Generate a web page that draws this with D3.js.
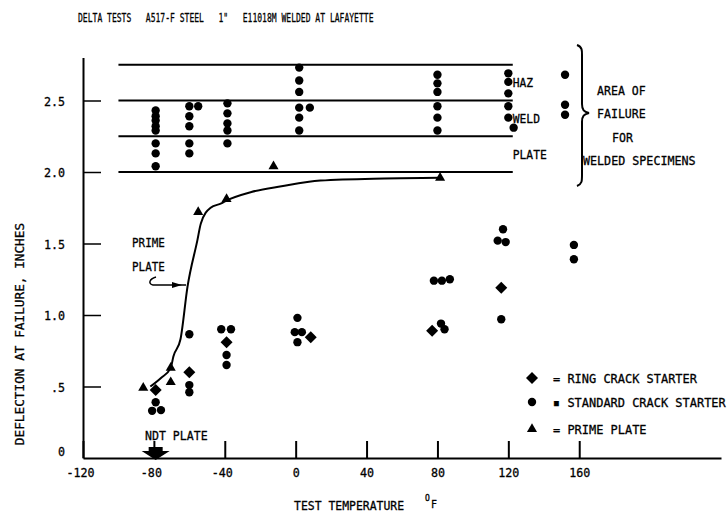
<!DOCTYPE html>
<html>
<head>
<meta charset="utf-8">
<script src="https://cdn.jsdelivr.net/npm/d3@7"></script>
<style>
  body { margin: 0; background: #fff; }
  svg { font-family: 'DejaVu Sans Mono', monospace; display: block; }
  text { fill: #000; stroke: #000; stroke-width: 0.3px; white-space: pre; }
</style>
</head>
<body>
<div class="visHolder"></div>
<script>
// ========================================
// Data
// ========================================
const xTicks = [-120, -80, -40, 0, 40, 80, 120, 160];
const xTickLabels = ['-120', '-80', '-40', '0', '40', '80', '120', '160'];
const yTicks = [0.5, 1.0, 1.5, 2.0, 2.5];
const yTickLabels = ['.5', '1.0', '1.5', '2.0', '2.5'];

const bandLevels = [2.75, 2.5, 2.25, 2.0];      // HAZ / WELD / PLATE zones
const bandNames = ['HAZ', 'WELD', 'PLATE'];

// ring crack starter (diamonds)
const ringTemp = [-79, -60, -39, 8.5, 77, 116];
const ringDefl = [0.475, 0.60, 0.81, 0.845, 0.89, 1.19];

// standard crack starter (circles)
const stdTemp = [
  -79, -79, -79, -79, -79, -79, -79, -79,
  -60, -60, -60, -60, -60, -55,
  -38.5, -38.5, -38.5, -38.5, -38.5,
  2, 2, 2, 2, 2, 2, 8,
  80, 80, 80, 80, 80, 80,
  120, 120, 120, 120, 120, 123,
  152, 152, 152,
  -79, -81, -76, -60, -60, -60, -42, -36.5, -39, -39,
  1, -0.5, 3.5, 1, 78, 82.5, 87, 82, 84,
  117, 114, 118.5, 116, 157, 157
];
const stdDefl = [
  2.43, 2.39, 2.36, 2.32, 2.29, 2.20, 2.13, 2.04,
  2.46, 2.39, 2.32, 2.20, 2.13, 2.46,
  2.48, 2.41, 2.34, 2.29, 2.20,
  2.73, 2.64, 2.56, 2.45, 2.38, 2.29, 2.45,
  2.68, 2.62, 2.56, 2.46, 2.38, 2.29,
  2.69, 2.63, 2.55, 2.46, 2.38, 2.31,
  2.68, 2.47, 2.40,
  0.39, 0.33, 0.335, 0.865, 0.51, 0.46, 0.90, 0.90, 0.72, 0.65,
  0.98, 0.88, 0.88, 0.81, 1.24, 1.24, 1.25, 0.94, 0.90,
  1.60, 1.52, 1.51, 0.97, 1.49, 1.39
];

// prime plate (triangles)
const primeTemp = [-86, -70.5, -70.5, -55, -39, -12.5, 81.5];
const primeDefl = [0.49, 0.63, 0.53, 1.72, 1.81, 2.04, 1.96];

// prime plate transition curve
const curveTemp = [-82, -76, -70.5, -69, -65, -61, -55.5, -53.5, -48, -42, -39, -25, -8, 14, 50, 81];
const curveDefl = [0.50, 0.56, 0.63, 0.71, 0.83, 1.20, 1.52, 1.64, 1.75, 1.78, 1.80, 1.86, 1.90, 1.94, 1.955, 1.96];

const ndtTemp = -79;

// ========================================
// Dimensions
// ========================================
const
  width = 727,
  height = 514,
  fontSize = 13;

const svg = d3.select('.visHolder')
  .append('svg')
    .attr('width', width)
    .attr('height', height);

const x = d3.scaleLinear().domain([-120, 240]).range([83, 721]);
const y = d3.scaleLinear().domain([0, 2.8]).range([458, 57.6]);

// text helper: condensed typewriter look via horizontal scaling
function label(px, py, str, size, k, anchor, rot) {
  return svg.append('text')
    .attr('transform', 'translate(' + px + ',' + py + ')' + (rot ? ' rotate(-90)' : '') + ' scale(' + k + ',1)')
    .attr('text-anchor', anchor || 'start')
    .style('font-size', size + 'px')
    .text(str);
}

// ========================================
// Title and axis titles
// ========================================
label(78, 21.8, 'DELTA TESTS   A517-F STEEL   1"   E11018M WELDED AT LAFAYETTE', 13, 0.62);
label(294, 509.7, 'TEST TEMPERATURE', fontSize, 0.88);
label(425, 501, 'O', 8, 1);
label(431, 508, 'F', 11, 0.9);
label(23.5, 334, 'DEFLECTION AT FAILURE, INCHES', fontSize, 0.98, 'middle', true);

// ========================================
// Axes
// ========================================
const xAxis = svg.append('g')
  .attr('transform', 'translate(0,' + y(0) + ')')
  .call(d3.axisBottom(x).tickValues(xTicks).tickSizeInner(-17).tickSizeOuter(0)
    .tickFormat((d, i) => xTickLabels[i]))
  .attr('font-family', null)
  .attr('font-size', null);
xAxis.select('.domain').attr('stroke-width', 2);
xAxis.selectAll('line').attr('stroke-width', 2);
xAxis.selectAll('text')
  .attr('y', 19).attr('dy', 0)
  .style('font-size', fontSize + 'px')
  .attr('transform', d => 'translate(' + (d < 0 ? -3 : 0) + ',0) scale(0.9,1)');

const yAxis = svg.append('g')
  .attr('transform', 'translate(' + x(-120) + ',0)')
  .call(d3.axisLeft(y).tickValues(yTicks).tickSizeInner(-18).tickSizeOuter(0)
    .tickFormat((d, i) => yTickLabels[i]))
  .attr('font-family', null)
  .attr('font-size', null);
yAxis.select('.domain').attr('stroke-width', 2);
yAxis.selectAll('line').attr('stroke-width', 1.5);
yAxis.selectAll('text')
  .attr('x', 0).attr('dy', '0.36em')
  .style('font-size', fontSize + 'px')
  .attr('transform', 'translate(-18,0) scale(0.9,1)');
label(x(-120) - 18, y(0) - 2.5, '0', fontSize, 0.9, 'end');

// ========================================
// Failure-area bands
// ========================================
svg.append('g').selectAll('line')
  .data(bandLevels)
  .enter().append('line')
    .attr('x1', x(-100)).attr('x2', x(122.5))
    .attr('y1', d => y(d)).attr('y2', d => y(d))
    .attr('stroke', '#000')
    .attr('stroke-width', 1.8);

bandNames.forEach((n, i) => {
  const mid = (bandLevels[i] + bandLevels[i + 1]) / 2;
  label(x(122.5), y(mid) + 4.7, n, fontSize, 0.87);
});

// brace + caption
svg.append('path')
  .attr('d', 'M577,45 C583,47 582,52 582,58 L582,104 C582,110 584,112 589,113 C584,114 582,116 582,122 L582,175 C582,181 582,184 577,186')
  .attr('fill', 'none').attr('stroke', '#000').attr('stroke-width', 2);
label(597, 94.7, 'AREA OF', fontSize, 0.89);
label(597, 117.7, 'FAILURE', fontSize, 0.89);
label(612, 141.7, 'FOR', fontSize, 0.89);
label(583, 164.7, 'WELDED SPECIMENS', fontSize, 0.9);

// ========================================
// Prime plate curve
// ========================================
const line = d3.line()
  .x((d, i) => x(curveTemp[i]))
  .y(d => y(d))
  .curve(d3.curveMonotoneX);
svg.append('path')
  .datum(curveDefl)
  .attr('d', line)
  .attr('fill', 'none')
  .attr('stroke', '#000')
  .attr('stroke-width', 2);

label(132, 246.5, 'PRIME', fontSize, 0.84);
label(132, 270.5, 'PLATE', fontSize, 0.84);
svg.append('path')
  .attr('d', 'M156,277 C149,279 148,284 153,285 L186,285')
  .attr('fill', 'none').attr('stroke', '#000').attr('stroke-width', 1.5);
svg.append('path')
  .attr('d', 'M172,282 L182,285 L172,288 Z')
  .attr('fill', '#000');

// ========================================
// Markers
// ========================================
const circleSym = d3.symbol(d3.symbolCircle, 55);
const diamondSym = d3.symbol(d3.symbolSquare, 72);
const triSym = d3.symbol(d3.symbolTriangle, 44);

svg.append('g').selectAll('path')
  .data(stdDefl)
  .enter().append('path')
    .attr('d', circleSym)
    .attr('transform', (d, i) => 'translate(' + x(stdTemp[i]) + ',' + y(d) + ')');

svg.append('g').selectAll('path')
  .data(ringDefl)
  .enter().append('path')
    .attr('d', diamondSym)
    .attr('transform', (d, i) => 'translate(' + x(ringTemp[i]) + ',' + y(d) + ') rotate(45)');

svg.append('g').selectAll('path')
  .data(primeDefl)
  .enter().append('path')
    .attr('d', triSym)
    .attr('transform', (d, i) => 'translate(' + x(primeTemp[i]) + ',' + y(d) + ')');

// NDT plate arrow
const nx = x(ndtTemp), ny = y(0);
svg.append('path')
  .attr('d', 'M' + (nx - 7) + ',' + (ny - 11) + 'h14v4h7l-14,9l-14,-9h7z')
  .attr('fill', '#000');
label(145, 439.5, 'NDT PLATE', fontSize, 0.89);

// ========================================
// Legend
// ========================================
const legendRows = [
  { sym: diamondSym, rot: 45, text: '= RING CRACK STARTER', cy: 378 },
  { sym: circleSym, rot: 0, text: '\u25AA STANDARD CRACK STARTER', cy: 402 },
  { sym: triSym, rot: 0, text: '= PRIME PLATE', cy: 429 }
];
legendRows.forEach(r => {
  svg.append('path')
    .attr('d', r.sym)
    .attr('transform', 'translate(532,' + r.cy + ') rotate(' + r.rot + ')');
  label(553, r.cy + 4.7, r.text, fontSize, 0.92);
});
</script>
</body>
</html>
